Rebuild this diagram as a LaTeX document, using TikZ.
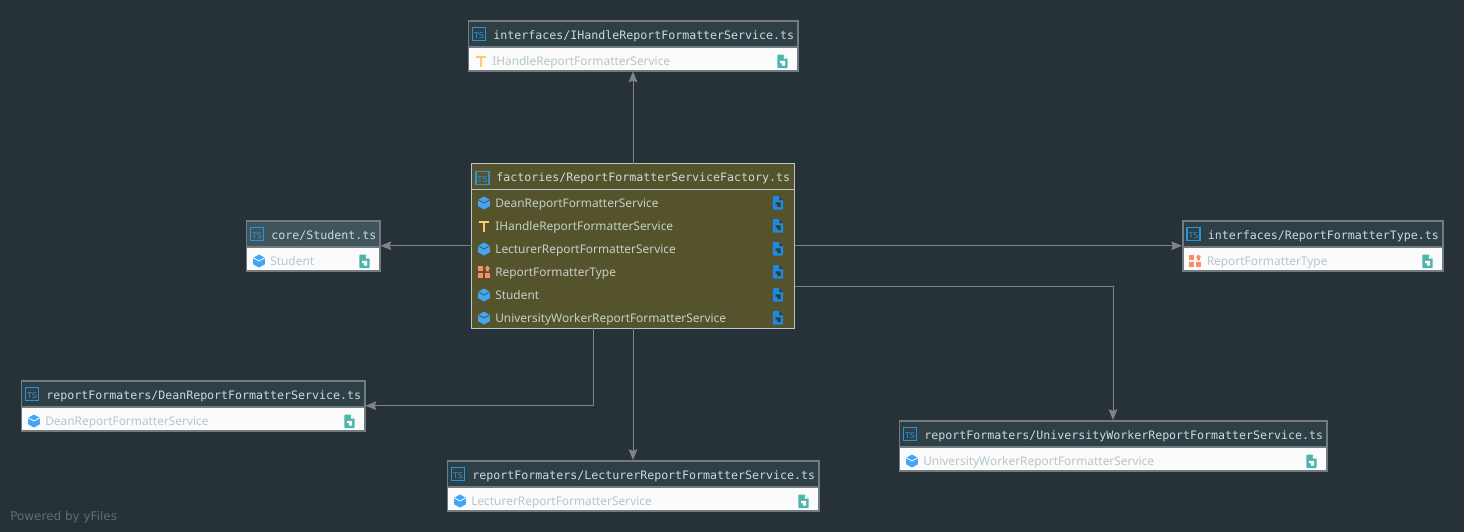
\documentclass[tikz,border=0pt]{standalone}
\usepackage{fontspec}
\setmainfont{Noto Sans}
\newfontfamily\headfont{DejaVu Sans Mono}
\newfontfamily\markfont{DejaVu Sans}
\usetikzlibrary{arrows.meta,calc}

\definecolor{canvas}{HTML}{263238}
\definecolor{edgegray}{HTML}{808486}
\definecolor{boxrim}{HTML}{727C80}
\definecolor{headdark}{HTML}{2F3F46}
\definecolor{headteal}{HTML}{3F555C}
\definecolor{headtext}{HTML}{CBDADD}
\definecolor{mutedtext}{HTML}{B7C5CE}
\definecolor{olivefill}{HTML}{54532B}
\definecolor{oliverim}{HTML}{B9C6C6}
\definecolor{olivetext}{HTML}{C5CFCB}
\definecolor{tsblue}{HTML}{2A93DC}
\definecolor{cubeblue}{HTML}{42A5F5}
\definecolor{typeyellow}{HTML}{FFCA6B}
\definecolor{enumorange}{HTML}{FF8A65}
\definecolor{fileteal}{HTML}{4DB6AC}
\definecolor{fileblue}{HTML}{1E88E5}

\tikzset{
  link/.style={draw=edgegray,line width=0.75pt,-{Stealth[length=8pt,width=6.5pt,inset=1pt,fill=edgegray]}},
  frame/.style={draw=none,inner sep=0pt,outer sep=0pt,rectangle},
  headlabel/.style={anchor=base west,inner sep=0pt,font=\headfont\fontsize{8.72pt}{10pt}\selectfont,text=headtext},
  memberlabel/.style={anchor=base west,inner sep=0pt,font=\fontsize{8.93pt}{11pt}\selectfont},
  badgelabel/.style={anchor=base east,inner sep=0pt,font=\markfont\fontsize{6pt}{7pt}\selectfont,text=tsblue},
  marklabel/.style={anchor=base west,inner sep=0pt,font=\markfont\fontsize{9pt}{11pt}\selectfont,text=white!28!canvas}
}

% TS file badge: node name, top left corner at (x,y)
\newcommand{\tsbadge}[3]{%
  \draw[tsblue,line width=0.8pt] (#2+0.5,#3+0.5) rectangle (#2+13.5,#3+13.5);
  \node[badgelabel] (#1) at (#2+12.3,#3+11.6) {TS};
}
% class icon: hexagonal cube centred on (x,y); #3 is the colour of the crease
\newcommand{\cubeicon}[3]{%
  \fill[cubeblue] (#1,#2-6.5) -- (#1+5.8,#2-3.2) -- (#1+5.8,#2+3.3) -- (#1,#2+6.5) -- (#1-5.8,#2+3.3) -- (#1-5.8,#2-3.2) -- cycle;
  \draw[#3,line width=0.6pt] (#1-5.8,#2-3.2) -- (#1,#2) -- (#1+5.8,#2-3.2);
}
% type icon: a bold T centred on (x,y)
\newcommand{\typeicon}[2]{%
  \fill[typeyellow] (#1-5,#2-5.5) rectangle (#1+5,#2-3.2);
  \fill[typeyellow] (#1-1.2,#2-3.2) rectangle (#1+1.2,#2+5.5);
}
% enum icon: three squares and a small arrow mark, centred on (x,y)
\newcommand{\enumicon}[2]{%
  \fill[enumorange] (#1-6,#2-6) rectangle (#1-0.7,#2-0.7);
  \fill[enumorange] (#1-6,#2+0.7) rectangle (#1-0.7,#2+6);
  \fill[enumorange] (#1+0.7,#2+0.7) rectangle (#1+6,#2+6);
  \fill[enumorange] (#1+3.4,#2-6.5) -- (#1+6.4,#2-3.4) -- (#1+4.8,#2-3.4) -- (#1+4.8,#2-0.7) -- (#1+2,#2-0.7) -- (#1+2,#2-3.4) -- (#1+0.7,#2-3.4) -- cycle;
}
% file icon with a jump arrow, centred on (x,y)
\newcommand{\fileicon}[4]{%
  \fill[#3,rounded corners=0.6pt] (#1-5.2,#2-6.8) -- (#1+1.5,#2-6.8) -- (#1+5.2,#2-3) -- (#1+5.2,#2+6.5) -- (#1-5.2,#2+6.5) -- cycle;
  \fill[#4] (#1+1.3,#2-6.8) -- (#1+1.3,#2-3) -- (#1+5.2,#2-3) -- cycle;
  \fill[#4] (#1-2.3,#2-0.6) -- (#1+2.6,#2-0.6) -- (#1+2.6,#2+4.2) -- (#1-0.6,#2+4.2) -- (#1-0.6,#2+1.6) -- (#1-2.3,#2+1.6) -- cycle;
}

% A one-member file box: name, x0, y0, x1, y1, header colour, title, icon code, member text
\newcommand{\filebox}[9]{%
  \node[frame,anchor=north west,fill=boxrim,
        minimum width={(#4-#2)*0.75pt},minimum height={(#5-#3)*0.75pt}] (#1) at (#2,#3) {};
  \fill[#6] (#2+1.5,#3+1.5) rectangle (#4-1.5,#3+26);
  \fill[white!98!canvas] (#2+1.5,#3+27.5) rectangle (#4-1.5,#5-1.5);
  \tsbadge{#1-badge}{#2+4.5}{#3+7}
  \node[headlabel] (#1-title) at (#2+25.5,#3+19) {#7};
  #8
  \node[memberlabel,text=mutedtext] (#1-member) at (#2+24.5,#5-6) {#9};
  \fileicon{#4-16}{#5-10}{fileteal}{white}
}
% One row of the focused box: row name, y, icon code, member text
\newcommand{\focusrow}[4]{%
  #3
  \node[memberlabel,text=olivetext] (#1) at (495,#2+4) {#4};
  \fileicon{778}{#2}{fileblue}{olivefill!70!black}
}

\begin{document}
\begin{tikzpicture}[x=0.75pt,y=-0.75pt]
  \useasboundingbox (0,0) rectangle (1464,532);
  \fill[canvas] (0,0) rectangle (1464,532);

  % focused file in the middle
  \node[frame,anchor=north west,minimum width=242.25pt,minimum height=123.4pt,fill=olivefill,draw=oliverim,line width=0.7pt] (factory) at (471.5,163.5) {};
  \draw[oliverim,line width=0.7pt] (472,189) -- (794,189);
  \tsbadge{factory-badge}{475.5}{171}
  \node[headlabel] (factory-title) at (496,181.8) {factories/ReportFormatterServiceFactory.ts};
  \focusrow{row-dean}{203}{\cubeicon{484}{203}{olivefill}}{DeanReportFormatterService}
  \focusrow{row-handle}{226}{\typeicon{484}{226}}{IHandleReportFormatterService}
  \focusrow{row-lecturer}{249}{\cubeicon{484}{249}{olivefill}}{LecturerReportFormatterService}
  \focusrow{row-type}{272}{\enumicon{484}{272}}{ReportFormatterType}
  \focusrow{row-student}{295}{\cubeicon{484}{295}{olivefill}}{Student}
  \focusrow{row-worker}{318}{\cubeicon{484}{318}{olivefill}}{UniversityWorkerReportFormatterService}

  % files it imports
  \filebox{handle}{467.5}{20}{798.5}{71.5}{headdark}{interfaces/IHandleReportFormatterService.ts}{\typeicon{481}{61}}{IHandleReportFormatterService}
  \filebox{student}{245.5}{220}{380.5}{271.5}{headteal}{core/Student.ts}{\cubeicon{259}{261}{white}}{Student}
  \filebox{ftype}{1182}{220}{1443.5}{271.5}{headdark}{interfaces/ReportFormatterType.ts}{\enumicon{1195}{261}}{ReportFormatterType}
  \filebox{dean}{20.5}{380}{365.5}{431.5}{headdark}{reportFormaters/DeanReportFormatterService.ts}{\cubeicon{34}{421}{white}}{DeanReportFormatterService}
  \filebox{lecturer}{446.5}{460}{819.5}{511.5}{headdark}{reportFormaters/LecturerReportFormatterService.ts}{\cubeicon{460}{501}{white}}{LecturerReportFormatterService}
  \filebox{worker}{898.5}{420}{1327.5}{471.5}{headdark}{reportFormaters/UniversityWorkerReportFormatterService.ts}{\cubeicon{912}{461}{white}}{UniversityWorkerReportFormatterService}

  % import edges
  \coordinate (bendworker) at (worker.north |- 0,286.5);
  \coordinate (bendworkerstart) at (factory.east |- 0,286.5);
  \coordinate (deanstart) at (593.5,328);
  \coordinate (deanbend) at (deanstart |- dean.east);
  \draw[link] (factory.north -| handle.south) -- (handle.south);
  \draw[link] (factory.west |- student.east) -- (student.east);
  \draw[link] (factory.east |- ftype.west) -- (ftype.west);
  \draw[link] (bendworkerstart) -- (bendworker) -- (worker.north);
  \draw[link] (deanstart) -- (deanbend) -- (dean.east);
  \draw[link] (factory.south -| lecturer.north) -- (lecturer.north);

  \node[marklabel] (credit) at (10,520) {Powered by yFiles};
\end{tikzpicture}
\end{document}
